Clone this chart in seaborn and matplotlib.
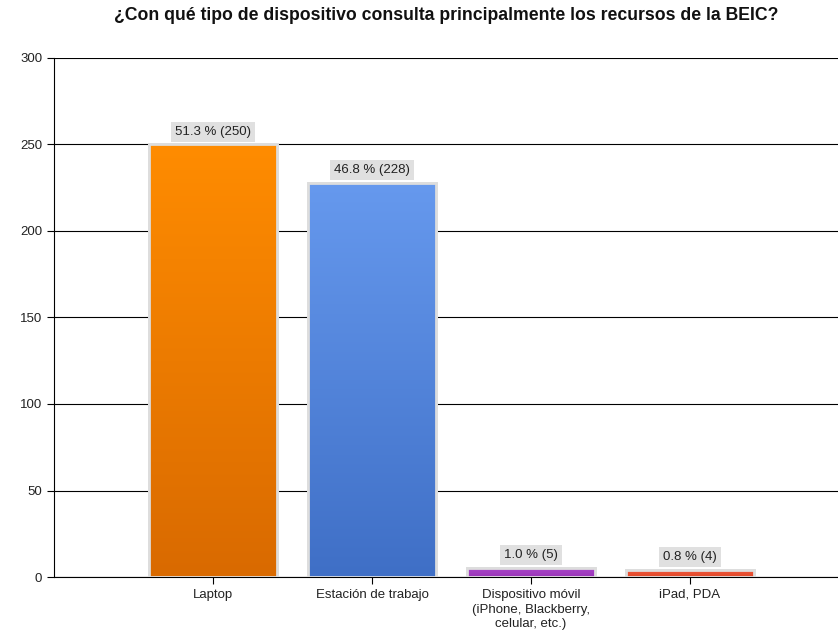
import matplotlib
matplotlib.use("Agg")
import matplotlib.pyplot as plt
import seaborn as sns
import numpy as np
import pandas as pd
from matplotlib.colors import LinearSegmentedColormap

categories = ["Laptop", "Estación de trabajo", "Dispositivo móvil\n(iPhone, Blackberry,\ncelular, etc.)", "iPad, PDA"]
counts = [250, 228, 5, 4]
percents = [51.3, 46.8, 1.0, 0.8]
top_colors = ["#FF8C00", "#6699EE", "#A845C8", "#F0553A"]
bottom_colors = ["#D96A00", "#3F6FC6", "#9A35B8", "#E04A2A"]
title = "¿Con qué tipo de dispositivo consulta principalmente los recursos de la BEIC?"

sns.set_style("white")
plt.rcParams['font.family'] = ['Liberation Sans', 'DejaVu Sans']

df = pd.DataFrame({"cat": categories, "n": counts})
fig = plt.figure(figsize=(8.38, 6.4), dpi=100)
ax = fig.add_axes([54/838, 63/640, 1 - 54/838, (577-58)/640])
sns.barplot(data=df, x="cat", y="n", ax=ax, width=0.8, color="white",
            edgecolor="#dddddd", linewidth=2, zorder=3)
ax.set_xlim(-1, (838-54)/159 - 1)
ax.set_ylim(0, 300)
ax.set_yticks(range(0, 301, 50))
ax.yaxis.grid(True, color="black", linewidth=0.8, zorder=0)
ax.set_axisbelow(True)
for s in ["top", "right"]:
    ax.spines[s].set_visible(False)
for s in ["left", "bottom"]:
    ax.spines[s].set_color("black")
    ax.spines[s].set_linewidth(0.8)
ax.tick_params(axis="both", which="both", length=5, width=0.8, color="black",
               labelsize=9.5, labelcolor="#222222", direction="out", left=True, bottom=True)
for lbl in ax.get_xticklabels():
    lbl.set_linespacing(1.3)
ax.set_xlabel("")
ax.set_ylabel("")

for i, patch in enumerate(ax.patches):
    x0, y0 = patch.get_x(), patch.get_y()
    w, h = patch.get_width(), patch.get_height()
    cmap = LinearSegmentedColormap.from_list("g", [bottom_colors[i], top_colors[i]])
    grad = np.linspace(0, 1, 256).reshape(-1, 1)
    im = ax.imshow(grad, cmap=cmap, aspect="auto", origin="lower",
                   extent=[x0, x0 + w, y0, y0 + h], zorder=3.5)
    im.set_clip_path(patch)
    border = plt.Rectangle((x0, y0), w, h, fill=False, edgecolor="#dddddd", linewidth=2, zorder=4)
    ax.add_patch(border)
    ax.annotate(f"{percents[i]:.1f} % ({counts[i]})", (x0 + w/2, y0 + h),
                xytext=(0, 5), textcoords="offset points", ha="center", va="bottom",
                fontsize=9.5, color="#222222", zorder=5,
                bbox=dict(boxstyle="square,pad=0.3", fc="#e0e0e0", ec="none"))

fig.text((54 + 838) / 2 / 838, 1 - 15/640, title, ha="center", va="center",
         fontsize=12.7, fontweight="bold", color="#111111")
fig.savefig("out.png", dpi=100)
